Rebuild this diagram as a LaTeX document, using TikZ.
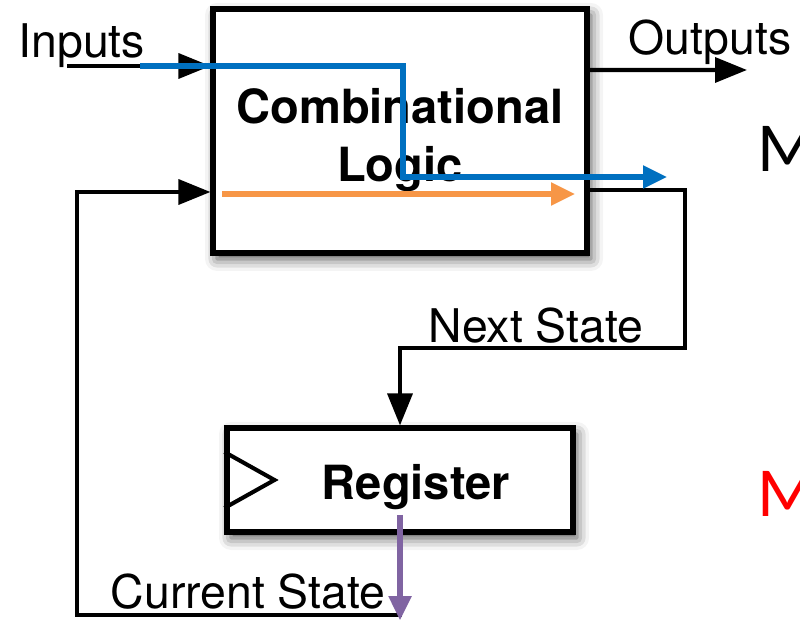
\documentclass[tikz,border=0pt]{standalone}
\usepackage{fontspec}
\setmainfont{TeX Gyre Heros}
\newfontfamily\slidefont{Carlito}
\usetikzlibrary{positioning, arrows.meta, shadows.blur}
\definecolor{pathblue}{RGB}{0,112,192}
\definecolor{pathorange}{RGB}{247,150,70}
\definecolor{pathpurple}{RGB}{128,100,162}

\begin{document}
\begin{tikzpicture}[blkbox/.style={draw, line width=3.6pt, fill=white,
                        blur shadow={shadow xshift=0.1cm, shadow yshift=-0.15cm, shadow blur radius=0.3cm, shadow opacity=70}},
                    sigarrow/.style={-{Triangle[length=0.8cm,width=0.62cm]}, line width=2.9pt},
                    patharrow/.style={-{Triangle[length=0.6cm,width=0.55cm]}, line width=3.6pt},
                    lbl/.style={font=\fontsize{33}{41}\selectfont, inner sep=0pt},
                    blbl/.style={lbl, font=\fontsize{33.5}{41}\selectfont\bfseries}]
        \useasboundingbox (0,0) rectangle (20,15.525);
        \draw (10,12.25) node[blkbox, minimum width=9.35cm, minimum height=6.1cm] (comb) {}
              (10,3.525) node[blkbox, minimum width=8.65cm, minimum height=2.6cm] (reg) {};
        \draw[line width=2.9pt] ([yshift=0.7cm]reg.west) -- ++(1.25,-0.7) -- ([yshift=-0.7cm]reg.west);
        \node[blbl, align=center] (combtxt) at ([yshift=-0.22cm]comb.center) {Combinational\\Logic};
        \node[blbl, anchor=base] (regtxt) at (10.4,3.025) {Register};
        \draw (2.04,14.075) node[lbl, anchor=base] (intxt) {Inputs}
              (17.75,14.15) node[lbl, anchor=base] (outtxt) {Outputs}
              (13.4,6.95) node[lbl, anchor=base] (nexttxt) {Next State}
              (6.2,0.325) node[lbl, anchor=base] (curtxt) {Current State};
        \node[anchor=base west, inner sep=0pt, font=\slidefont\fontsize{50}{60}\selectfont] (mtop) at (18.94,11.225) {M};
        \node[anchor=base west, inner sep=0pt, font=\slidefont\fontsize{50}{60}\selectfont, red] (mbot) at (18.94,2.6) {M};
        % wires
        \coordinate (inp) at (1.675,13.875);
        \coordinate (outp) at (18.675,13.775);
        \coordinate (nsbend) at (17.125,6.825);
        \coordinate (fb) at (1.925,0.15);
        \draw[sigarrow] (inp) -- (inp -| comb.west);
        \draw[sigarrow] ([yshift=1.525cm]comb.east) -- (outp);
        \draw[sigarrow] ([yshift=-1.475cm]comb.east) -| (nsbend) -| (reg.north);
        \draw[sigarrow] (reg.south) |- (fb) |- ([yshift=-1.525cm]comb.west);
        % critical paths
        \coordinate (bluestart) at (3.5,13.875);
        \coordinate (bluedrop) at (10.075,11.1);
        \coordinate (blueend) at (16.675,11.1);
        \coordinate (orstart) at (5.55,10.675);
        \coordinate (orend) at (14.375,10.675);
        \coordinate (purpstart) at (10,2.65);
        \coordinate (purpend) at (10,0.02);
        \draw[patharrow, pathblue] (bluestart) -| (bluedrop) -- (blueend);
        \draw[patharrow, pathorange] (orstart) -- (orend);
        \draw[patharrow, pathpurple] (purpstart) -- (purpend);
    \end{tikzpicture}
\end{document}
